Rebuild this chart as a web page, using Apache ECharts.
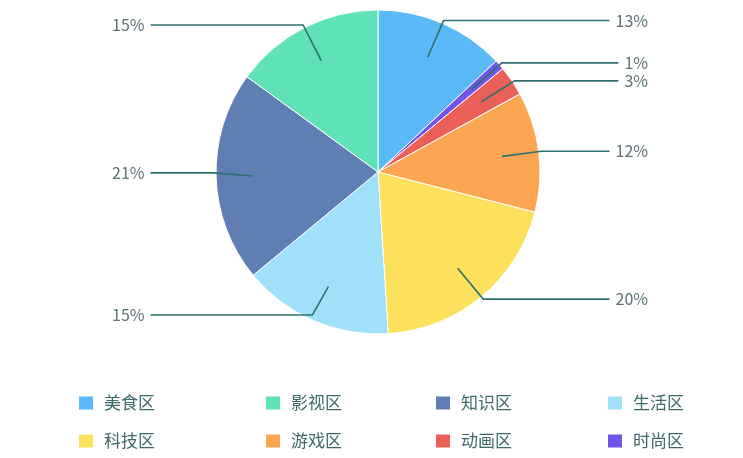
<!DOCTYPE html>
<html lang="zh">
<head>
<meta charset="UTF-8">
<script src="https://cdn.jsdelivr.net/npm/echarts@6/dist/echarts.min.js"></script>
<title>分区占比</title>
<style>
html, body { margin: 0; padding: 0; background: #fff; }
#chart { width: 743px; height: 458px; }
</style>
</head>
<body>
<div id="chart"></div>
<script>
// 饼图顺序（顺时针，从12点开始）
var categories = ['美食区', '时尚区', '动画区', '游戏区', '科技区', '生活区', '知识区', '影视区'];
var values = [13, 1, 3, 12, 20, 15, 21, 15];
var colors = ['#5ab9f6', '#7055e8', '#ea5f57', '#fca653', '#fde05b', '#a0e1f9', '#5f7fb4', '#5fe2b8'];
// 图例顺序（两行四列）
var legendRows = [['美食区', '影视区', '知识区', '生活区'], ['科技区', '游戏区', '动画区', '时尚区']];
var legendLeft = [77, 264, 434, 606];
var legendTop = [392, 430];

var pieData = categories.map(function (c, i) {
    return { name: c, value: values[i], itemStyle: { color: colors[i] } };
});
var labelData = categories.map(function (c, i) {
    return { name: c, value: values[i] };
});

function colorOf(name) {
    return colors[categories.indexOf(name)];
}

var legends = [];
legendRows.forEach(function (row, r) {
    row.forEach(function (n, c) {
        legends.push({
            left: legendLeft[c],
            top: legendTop[r],
            padding: 0,
            itemWidth: 16,
            itemHeight: 15,
            icon: 'rect',
            selectedMode: false,
            textStyle: {
                fontSize: 17, lineHeight: 22, color: '#3d6869',
                fontFamily: 'Noto Sans CJK SC', padding: [0, 0, 0, 5]
            },
            data: [{ name: n, itemStyle: { color: colorOf(n) } }]
        });
    });
});

// 饼图所在区域
var box = { left: 90, top: 8, width: 580, height: 316 };

var chart = echarts.init(document.getElementById('chart'));
chart.setOption({
    animation: false,
    legend: legends,
    series: [
        {
            type: 'pie',
            left: box.left, top: box.top, width: box.width, height: box.height,
            center: [378 - box.left, 172 - box.top],
            radius: 162,
            startAngle: 90,
            clockwise: true,
            silent: true,
            itemStyle: { borderColor: '#fff', borderWidth: 1 },
            label: { show: false },
            labelLine: { show: false },
            data: pieData
        },
        {
            type: 'pie',
            left: box.left, top: box.top, width: box.width, height: box.height,
            center: [378 - box.left, 172 - box.top],
            radius: 125,
            startAngle: 90,
            clockwise: true,
            silent: true,
            z: 5,
            itemStyle: { color: 'rgba(0,0,0,0)' },
            label: {
                show: true,
                position: 'outside',
                alignTo: 'edge',
                edgeDistance: 22,
                distanceToLabelLine: 6,
                formatter: '{c}%',
                fontSize: 16,
                color: '#5b7274',
                fontFamily: 'Noto Sans CJK SC'
            },
            labelLine: {
                show: true,
                length: 40,
                length2: 20,
                lineStyle: { color: '#2f6f6f', width: 1.6 }
            },
            data: labelData
        }
    ]
});
</script>
</body>
</html>
